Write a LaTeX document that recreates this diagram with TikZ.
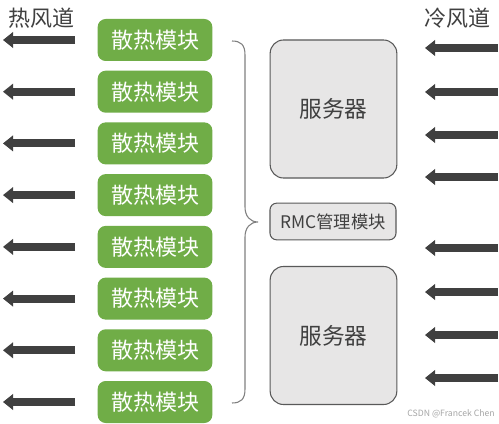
\documentclass[tikz,border=0pt]{standalone}
\usepackage{fontspec}
\setmainfont{Noto Sans CJK SC}
\usetikzlibrary{arrows.meta}
\definecolor{gbox}{HTML}{70AD47}
\definecolor{sfill}{HTML}{E7E6E6}
\definecolor{sdraw}{HTML}{595959}
\definecolor{arr}{HTML}{404040}
\definecolor{brc}{HTML}{808080}
\tikzset{
  coolbox/.style={fill=gbox, draw=none, rounded corners=6pt, minimum width=86pt, minimum height=31.5pt, text=white, font=\fontsize{16.5}{18}\selectfont, inner sep=0pt},
  srvbox/.style={fill=sfill, draw=sdraw, line width=0.8pt, rounded corners=10pt, minimum width=95pt, minimum height=103.5pt, text=arr, font=\fontsize{17}{19}\selectfont, inner sep=0pt},
  rmcbox/.style={fill=sfill, draw=sdraw, line width=0.8pt, rounded corners=5pt, minimum width=94.5pt, minimum height=27.5pt, text=arr, font=\fontsize{13}{15}\selectfont, inner sep=0pt},
  title/.style={text=arr, font=\fontsize{16.5}{18}\selectfont, inner sep=0pt},
  flow/.style={draw=arr, line width=6pt, -{Triangle[length=7.5pt,width=11.5pt]}},
  bracel/.style={draw=brc, line width=0.8pt}
}
\begin{document}
\begin{tikzpicture}[x=0.75pt,y=-0.75pt]
\useasboundingbox (0,0) rectangle (499,424);
\fill[white] (0,0) rectangle (499,424);
% titles
\node[title] (hot) at (41,18) {热风道};
\node[title] (cold) at (457,18) {冷风道};
% cooling modules and hot-side arrows
\foreach \i/\y in {1/40,2/91.7,3/143.4,4/195.1,5/246.9,6/298.6,7/350.3,8/402}{
  \node[coolbox] (m\i) at (155,\y) {散热模块};
  \coordinate (hs\i) at (75,\y);
  \coordinate (he\i) at (3,\y);
  \draw[flow] (hs\i) -- (he\i);
}
% servers
\node[srvbox] (s1) at (333.5,109) {服务器};
\node[srvbox] (s2) at (333.5,335.5) {服务器};
\node[rmcbox] (rmc) at (333,221.5) {RMC管理模块};
% cold-side arrows
\foreach \i/\y in {1/48,2/92,3/135,4/177,5/248,6/292,7/335,8/378}{
  \coordinate (cs\i) at (498,\y);
  \coordinate (ce\i) at (425,\y);
  \draw[flow] (cs\i) -- (ce\i);
}
% brace
\coordinate (bt) at (232,41);
\coordinate (bb) at (232,403);
\coordinate (tip) at (258,222);
\draw[bracel] (bt) .. controls (241,41) and (245,45) .. (245,55) -- (245,207)
  .. controls (245,216) and (250,222) .. (tip)
  .. controls (250,222) and (245,228) .. (245,237) -- (245,389)
  .. controls (245,399) and (241,403) .. (bb);
% watermark
\node[text=gray!70, font=\fontsize{6.5}{7}\selectfont, inner sep=0pt, anchor=east] (wm) at (495,414) {CSDN @Francek Chen};
\end{tikzpicture}
\end{document}
